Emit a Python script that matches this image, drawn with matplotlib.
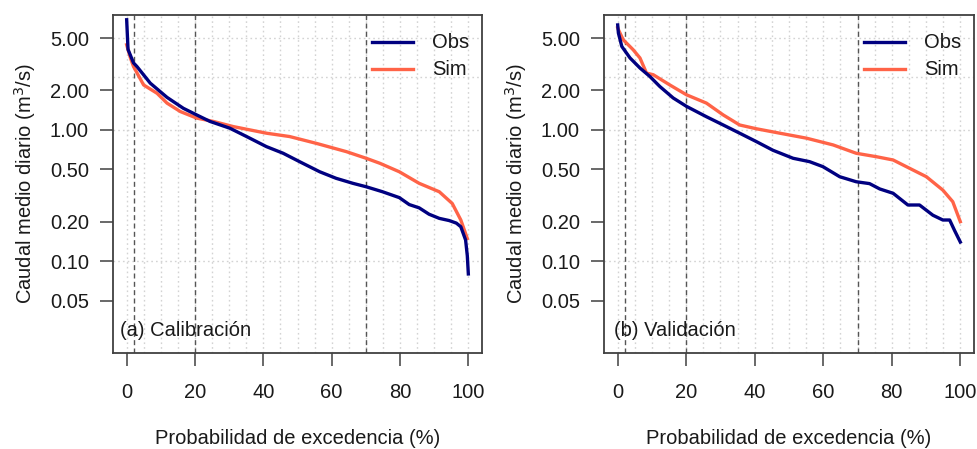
import matplotlib
matplotlib.use("Agg")
import matplotlib.pyplot as plt
import numpy as np

plt.rcParams['font.family'] = ['Liberation Sans', 'DejaVu Sans']

# ---- data (exceedance probability %, daily mean flow m3/s) ----
cal_obs_x = [0, 0.4, 2.0, 3.0, 6.9, 11.8, 16.6, 20.5, 24.4, 30.2, 35.1, 40.9, 45.8, 50.6,
             56.5, 61.3, 66.2, 70.1, 74.9, 79.8, 82.7, 85.6, 88.5, 91.5, 94.4, 96.5, 97.8,
             99.2, 99.7, 100]
cal_obs_y = [6.9, 4.1, 3.24, 3.04, 2.27, 1.77, 1.46, 1.30, 1.16, 1.03, 0.89, 0.746, 0.664, 0.573,
             0.48, 0.428, 0.392, 0.369, 0.338, 0.305, 0.27, 0.255, 0.228, 0.212, 0.204, 0.195, 0.183,
             0.145, 0.11, 0.08]
cal_sim_x = [0, 1.1, 2.0, 4.96, 8.9, 11.8, 15.7, 20.5, 25.4, 31.2, 40.9, 47.7, 55.5, 64.3,
             70.1, 74.1, 79.8, 85.6, 91.5, 95.3, 97.8, 99.7]
cal_sim_y = [4.45, 3.53, 3.04, 2.2, 1.9, 1.6, 1.38, 1.23, 1.16, 1.06, 0.944, 0.89, 0.79, 0.683,
             0.608, 0.557, 0.48, 0.392, 0.338, 0.275, 0.206, 0.149]

val_obs_x = [0, 0.2, 1.2, 3.6, 6.5, 9.4, 12.3, 16.2, 20.1, 25.9, 30.8, 35.6, 40.5, 45.3,
             51.2, 56.0, 59.9, 64.8, 69.6, 73.5, 76.5, 80.4, 84.7, 88.1, 92.0, 94.9, 96.9,
             98.3, 100]
val_obs_y = [6.3, 5.47, 4.32, 3.53, 2.96, 2.55, 2.14, 1.75, 1.51, 1.26, 1.09, 0.944, 0.814, 0.70,
             0.608, 0.573, 0.525, 0.44, 0.403, 0.39, 0.355, 0.329, 0.268, 0.268, 0.224, 0.206, 0.206,
             0.172, 0.14]
val_sim_x = [0, 0.2, 1.6, 4.5, 6.5, 8.4, 10.4, 15.2, 20.1, 25.9, 30.8, 35.6, 40.5, 47.3,
             55.1, 62.9, 69.6, 75.5, 80.4, 85.2, 90.1, 94.9, 97.8, 100]
val_sim_y = [6.0, 5.8, 4.86, 4.08, 3.53, 2.71, 2.63, 2.2, 1.85, 1.6, 1.30, 1.09, 1.02, 0.944,
             0.865, 0.768, 0.664, 0.625, 0.59, 0.51, 0.44, 0.348, 0.284, 0.2]

y_ticks = [0.05, 0.10, 0.20, 0.50, 1.00, 2.00, 5.00]
y_ticklabels = ["0.05", "0.10", "0.20", "0.50", "1.00", "2.00", "5.00"]
x_ticks = [0, 20, 40, 60, 80, 100]
h_grid = [0.1, 1.0, 2.54, 5.0]
v_grid = list(range(0, 101, 5))
ref_lines = [2, 20, 70]
panel_titles = ["(a) Calibración", "(b) Validación"]
series_labels = ["Obs", "Sim"]

OBS_C = "#000080"
SIM_C = "#FF6347"
AX_C = "#404040"
TXT_C = "#1a1a1a"
FS = 14.5

fig = plt.figure(figsize=(9.78, 4.49), dpi=100)
W, H = 978, 449
boxes = [(113, 482), (604, 974)]
top_px, bot_px = 15, 353
panels = [
    (cal_obs_x, cal_obs_y, cal_sim_x, cal_sim_y),
    (val_obs_x, val_obs_y, val_sim_x, val_sim_y),
]

for i, ((l, r), data) in enumerate(zip(boxes, panels)):
    ax = fig.add_axes([l / W, (H - bot_px) / H, (r - l) / W, (bot_px - top_px) / H])
    ax.set_yscale('log')
    ax.set_xlim(-4, 104)
    ax.set_ylim(0.02, 7.5)
    for g in v_grid:
        ax.axvline(g, color="#D3D3D3", lw=1, linestyle=(0, (1.2, 2.2)), zorder=1)
    for g in h_grid:
        ax.axhline(g, color="#D3D3D3", lw=1, linestyle=(0, (1.2, 2.2)), zorder=1)
    for v in ref_lines:
        ax.axvline(v, color="#555555", lw=1, linestyle=(0, (3.6, 2.4)), zorder=2)
    ox, oy, sx, sy = data
    ax.plot(sx, sy, color=SIM_C, lw=2.4, zorder=3)
    ax.plot(ox, oy, color=OBS_C, lw=2.4, zorder=4)

    ax.set_yticks(y_ticks)
    ax.set_yticklabels(y_ticklabels)
    ax.yaxis.set_minor_locator(matplotlib.ticker.NullLocator())
    ax.set_xticks(x_ticks)
    ax.tick_params(axis='both', direction='out', length=9.4, width=1.1, color=AX_C,
                   labelsize=FS, labelcolor=TXT_C)
    ax.tick_params(axis='y', pad=8)
    ax.tick_params(axis='x', pad=12.5)
    for s in ax.spines.values():
        s.set_color(AX_C)
        s.set_linewidth(1.3)

    # legend (drawn manually to match position)
    ax.plot([0.702, 0.813], [0.92, 0.92], transform=ax.transAxes, color=OBS_C, lw=2.4)
    ax.plot([0.702, 0.813], [0.84, 0.84], transform=ax.transAxes, color=SIM_C, lw=2.4)
    ax.text(0.865, 0.92, series_labels[0], transform=ax.transAxes, fontsize=FS,
            va='center', ha='left', color=TXT_C)
    ax.text(0.865, 0.84, series_labels[1], transform=ax.transAxes, fontsize=FS,
            va='center', ha='left', color=TXT_C)

    ax.text(0.019 if i == 0 else 0.027, 0.068, panel_titles[i], transform=ax.transAxes,
            fontsize=FS, va='center', ha='left', color=TXT_C)

    cx = (l + r) / 2
    fig.text(cx / W, 1 - 438 / H, "Probabilidad de excedencia (%)", fontsize=FS,
             ha='center', va='center', color=TXT_C)
    fig.text((l - 88) / W, 1 - 184 / H, "Caudal medio diario (m$^3$/s)", fontsize=FS,
             ha='center', va='center', rotation=90, color=TXT_C)

fig.savefig("out.png", dpi=100)
